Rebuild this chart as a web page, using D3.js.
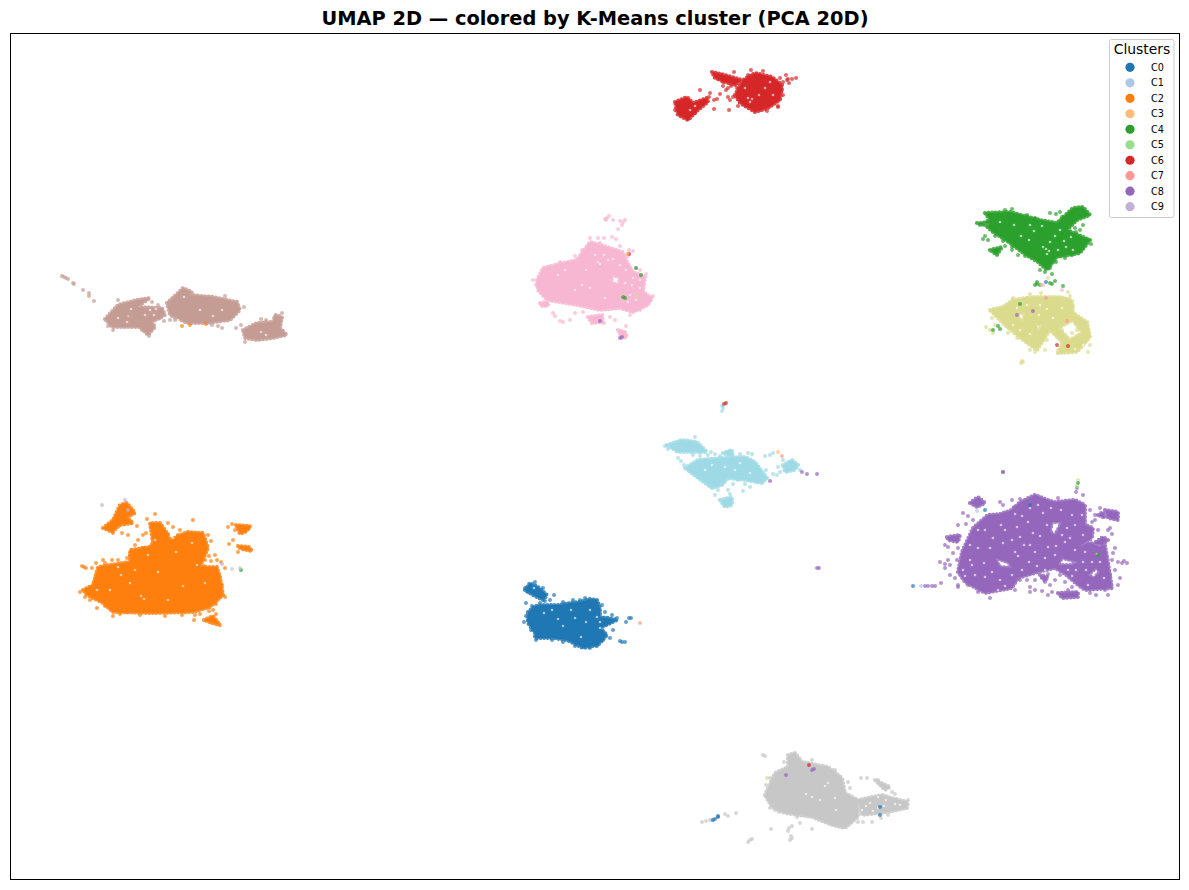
<!DOCTYPE html>
<html>
<head>
<meta charset="utf-8">
<script src="https://cdn.jsdelivr.net/npm/d3@7"></script>
<style>
  html, body { margin: 0; background: #fff; }
  text { font-family: "DejaVu Sans", sans-serif; }
</style>
</head>
<body>
<svg id="chart"></svg>
<script>
const legendLabels = ["C0","C1","C2","C3","C4","C5","C6","C7","C8","C9"];
const legendColors = ["#1f77b4","#aec7e8","#ff7f0e","#ffbb78","#2ca02c","#98df8a","#d62728","#ff9896","#9467bd","#c5b0d5"];

// UMAP values. Dense regions are outlines, the rest single points.
const c0Core = [
  [[528,612],[535,606],[543,605],[560,605],[570,603],[580,602],[590,599],[597,600],[600,608],[600,617],[608,618],[617,620],[600,628],[607,635],[598,645],[583,648],[567,640],[553,638],[535,638],[535,633],[528,623]],
  [[525,590],[530,583],[538,587],[547,595],[543,600],[533,595]]
];
const c0Points = [[526,603],[532,606],[528,620],[531,630],[536,640],[552,640],[563,642],[575,646],[590,648],[597,646],[603,640],[610,638],[613,630],[606,624],[617,618],[612,615],[622,642],[620,641],[625,642],[631,618],[629,618],[626,622],[554,595],[543,588],[550,600],[580,600],[585,598],[594,601],[540,603],[525,588],[528,592],[535,582],[605,612],[602,605],[524,622],[526,616],[610,622],[603,632],[573,600],[563,602],[545,601]];
const c0Gaps = [[586,622],[575,618],[558,619],[563,626],[600,622],[552,610],[571,610],[581,637],[597,617],[600,628],[534,588],[544,613],[590,610]];

const c2Core = [
  [[83,590],[93,585],[98,567],[110,565],[130,562],[130,550],[150,547],[153,543],[150,523],[160,523],[167,533],[170,540],[187,532],[203,533],[208,548],[200,567],[217,567],[220,577],[223,595],[210,607],[193,612],[153,613],[113,612],[103,603],[87,595]],
  [[103,528],[113,520],[120,505],[127,503],[135,513],[127,517],[133,523],[120,525],[112,532]],
  [[236,525],[250,526],[247,531],[240,534]],
  [[238,546],[249,547],[252,551],[241,549]],
  [[204,620],[213,616],[220,625],[212,623]]
];
const c2Points = [[82,566],[84,567],[86,568],[100,596],[105,606],[113,616],[127,612],[165,616],[195,615],[209,611],[194,620],[213,610],[216,614],[143,535],[146,533],[138,540],[135,545],[155,514],[147,519],[225,597],[222,585],[217,560],[221,562],[225,568],[215,555],[208,535],[211,541],[209,556],[193,520],[173,527],[180,530],[168,523],[232,524],[228,527],[235,530],[233,540],[238,552],[229,544],[241,527],[249,528],[137,526],[128,535],[122,533],[113,533],[110,528],[140,557],[130,555],[112,560],[105,563],[96,563],[92,568],[80,592],[85,597],[90,600],[97,608],[150,548],[161,541],[168,534],[214,583],[216,604],[200,614],[182,615],[140,615],[120,614],[143,548],[137,553],[127,558],[172,542],[178,535],[205,560],[204,566],[211,561],[103,560],[118,560]];
const c2Gaps = [[141,596],[144,599],[158,572],[183,586],[121,575],[110,590],[176,552],[192,543],[148,555],[130,583],[205,583],[97,590],[168,600],[155,540],[135,570],[118,567],[173,538],[197,565]];

const c4Core = [
  [[985,213],[1010,212],[1040,220],[1057,223],[1073,208],[1083,207],[1090,215],[1077,220],[1067,230],[1090,240],[1080,253],[1057,257],[1047,270],[1038,262],[1023,253],[1010,243],[993,232],[983,223],[990,220]],
  [[977,223],[990,223],[988,226]],
  [[990,250],[1002,247],[997,255]]
];
const c4Points = [[985,236],[988,240],[983,239],[1012,247],[1018,255],[1025,256],[1012,250],[1050,268],[1056,262],[1065,258],[1072,255],[1062,255],[1052,274],[1045,272],[1040,270],[1080,230],[1076,232],[1088,240],[1091,244],[1062,217],[1050,213],[1056,214],[1060,212],[1005,210],[1012,209],[1027,215],[1035,218],[980,225],[995,236],[1003,241],[1037,282],[1052,284],[1055,281],[1040,285],[1035,285],[1066,222],[1083,225],[1075,228],[1068,232],[1074,236],[1083,248],[1030,256],[1005,246]];
const c4Gaps = [[1014,225],[1021,236],[1034,231],[1043,247],[1050,242],[1064,241],[1029,240],[1047,254],[1058,250],[1071,237],[1042,226],[1060,230],[1000,222],[1049,251],[1046,249],[1073,250],[1066,247],[1030,225],[1055,236]];

const c6Core = [
  [[735,95],[743,80],[755,73],[772,77],[782,85],[780,100],[768,108],[755,112],[740,103]],
  [[675,102],[687,97],[693,103],[707,98],[708,102],[698,110],[688,120],[678,115]],
  [[712,72],[725,75],[742,80],[735,85],[725,82],[715,78]]
];
const c6Points = [[787,80],[792,79],[796,78],[783,82],[780,78],[789,83],[778,107],[778,106],[767,111],[700,90],[710,93],[709,97],[714,100],[717,99],[720,94],[726,90],[728,88],[728,97],[730,100],[729,110],[714,109],[731,79],[723,82],[718,78],[737,88],[739,92],[733,97],[738,106],[745,105],[734,72],[748,75],[675,110],[677,103],[688,119],[695,113],[699,107],[783,95],[782,90],[786,75],[788,79],[751,70],[763,71],[723,86],[731,86]];
const c6Gaps = [[748,98],[752,99],[759,95],[695,106],[690,110],[765,88],[750,102],[745,88],[773,95],[770,82]];

const c8Core = [
  [[958,572],[962,552],[973,528],[988,515],[1000,514],[1012,510],[1020,502],[1035,495],[1048,500],[1055,502],[1075,500],[1085,505],[1085,525],[1093,528],[1092,538],[1078,547],[1088,543],[1105,545],[1108,562],[1112,588],[1085,590],[1078,585],[1065,574],[1055,568],[1038,572],[1018,578],[1012,588],[985,593],[965,582]],
  [[995,558],[1008,562],[1012,568],[1000,567]],
  [[1062,558],[1078,562],[1072,565],[1058,565]],
  [[1052,522],[1062,522],[1055,535],[1050,532]],
  [[1098,515],[1103,512],[1105,518]],
  [[970,503],[978,497],[985,503],[977,507]],
  [[1105,510],[1118,512],[1118,520],[1108,518]],
  [[947,537],[960,535],[958,542],[948,540]],
  [[1058,593],[1078,592],[1078,597],[1062,598]],
  [[1093,544],[1103,537],[1108,540],[1100,547]],
  [[1093,578],[1100,572],[1096,568],[1088,575]],
  [[1040,575],[1048,577],[1045,581]]
];
const c8Points = [[1118,562],[1122,563],[1127,563],[1124,561],[940,562],[945,564],[950,565],[948,560],[928,586],[932,586],[935,586],[925,586],[941,583],[958,587],[1003,472],[1076,492],[1077,488],[973,520],[968,516],[963,513],[966,524],[958,525],[1000,502],[1003,505],[1012,500],[1014,507],[1020,499],[1058,498],[1083,495],[1090,510],[1095,515],[1095,520],[1100,508],[1092,522],[1098,530],[1110,528],[1112,534],[1108,530],[1115,548],[1113,553],[1112,560],[1115,570],[1110,575],[1108,580],[1118,585],[1105,590],[1108,595],[1090,593],[1096,595],[1050,585],[1052,592],[1030,587],[1027,580],[1035,590],[1030,592],[1035,580],[1045,582],[1048,574],[1042,578],[1020,580],[1015,590],[990,598],[978,592],[968,585],[958,585],[955,578],[945,568],[950,575],[953,553],[948,547],[958,548],[957,560],[945,545],[1060,575],[1065,582],[1072,587],[1068,590],[1055,580],[1048,595],[1042,591],[1090,582],[1100,585],[1120,578]];
const c8Gaps = [[985,530],[993,538],[1003,543],[1017,527],[1028,522],[1033,533],[1024,545],[1035,552],[1029,562],[1043,513],[1040,536],[1048,547],[1045,558],[1065,542],[1075,525],[1085,552],[1092,562],[1075,550],[1000,580],[985,577],[975,575],[970,560],[978,548],[1018,556],[1068,570],[1086,570],[1083,535],[1094,575],[1015,514],[1001,525],[1056,546],[1012,540],[1037,566],[963,570],[990,548],[978,530],[970,545],[984,563],[992,572],[1012,575],[1005,586],[1022,570],[1030,508],[1038,505],[1047,525],[1020,537],[1005,530],[1030,545],[1061,510],[1072,515],[1067,528],[1045,570],[1097,554],[1100,562],[1088,585],[1104,578],[1083,562],[1070,538],[1055,555],[1015,552],[998,590],[972,565],[965,576],[1022,516],[1062,535],[1082,515],[1051,508],[1072,576],[1076,570]];

const c11Core = [
  [[105,319],[118,305],[137,300],[150,298],[137,307],[162,308],[165,315],[152,322],[155,327],[148,335],[140,327],[112,327]],
  [[167,303],[178,293],[183,288],[192,292],[190,295],[213,297],[237,302],[240,310],[230,320],[207,323],[187,323],[170,315]],
  [[243,330],[257,323],[273,322],[275,315],[282,317],[280,328],[286,335],[273,338],[257,340],[245,338]]
];
const c11Points = [[62,276],[64,277],[66,278],[68,279],[73,283],[74,284],[83,290],[89,293],[89,296],[94,301],[160,318],[164,321],[170,320],[175,320],[212,325],[218,326],[222,328],[236,328],[241,325],[261,319],[266,320],[282,313],[131,320],[147,332],[149,336],[142,330],[125,310],[127,315],[118,300],[108,326],[113,330],[152,302],[158,305],[225,296],[236,305],[244,307],[283,331],[286,334],[245,342],[135,318],[145,325]];
const c11Gaps = [[131,309],[145,315],[154,315],[184,297],[200,310],[222,310],[213,316],[261,332],[156,309],[128,316],[118,318],[150,310],[178,320],[266,335],[127,322]];

const c13Core = [
  [[537,280],[543,268],[563,263],[577,260],[590,242],[607,247],[623,252],[627,262],[633,272],[645,277],[643,292],[652,298],[648,305],[633,312],[620,308],[600,310],[577,305],[547,300],[538,290]],
  [[613,275],[620,278],[618,285],[611,282]],
  [[588,317],[602,315],[603,322],[592,323]],
  [[618,330],[625,332],[627,337],[622,338]],
  [[540,303],[548,302],[548,306],[541,306]]
];
const c13Points = [[607,218],[606,220],[609,216],[605,219],[613,220],[620,221],[623,222],[625,220],[622,225],[618,229],[598,238],[604,238],[612,237],[616,239],[629,250],[633,251],[628,256],[636,268],[640,270],[646,274],[653,296],[650,300],[643,298],[553,313],[555,316],[560,321],[563,322],[570,320],[575,313],[583,312],[604,323],[615,320],[622,333],[626,326],[610,317],[630,315],[640,310],[560,262],[570,263],[575,256],[582,250],[587,248],[536,285],[533,280],[590,238],[620,246],[600,243]];
const c13Gaps = [[558,275],[565,270],[600,264],[608,260],[595,255],[620,265],[613,259],[582,285],[590,288],[625,283],[632,285],[630,295],[640,288],[622,296],[605,298],[633,278],[640,280],[586,270],[575,290],[626,270],[636,300],[628,302],[598,262],[604,255]];

const c15Core = [
  [[765,795],[775,773],[788,767],[788,755],[795,753],[802,762],[828,767],[842,778],[845,793],[858,800],[858,817],[845,828],[832,825],[812,817],[785,813],[772,807]],
  [[858,800],[882,795],[892,798],[908,802],[907,808],[888,812],[862,815]],
  [[875,780],[890,787],[885,790]]
];
const c15Points = [[702,822],[706,821],[710,820],[712,820],[725,814],[728,816],[736,813],[763,755],[765,756],[750,840],[752,839],[748,842],[771,829],[789,828],[792,826],[788,831],[791,836],[792,838],[790,840],[812,829],[800,823],[770,808],[775,810],[770,778],[766,785],[861,778],[867,778],[878,780],[892,792],[890,802],[895,794],[908,800],[888,815],[881,818],[872,822],[863,822],[858,822],[779,812],[797,817],[848,782],[850,788],[835,770],[812,760],[784,762],[775,780]];
const c15Gaps = [[806,794],[812,797],[828,783],[825,786],[820,800],[835,798],[878,808],[870,803],[886,800],[895,804],[878,797],[836,810],[866,806],[873,811],[900,805],[884,806],[862,810]];

const c17Core = [
  [[990,310],[1003,307],[1013,300],[1033,297],[1060,297],[1072,300],[1073,313],[1087,322],[1090,337],[1077,352],[1057,353],[1063,343],[1050,330],[1037,350],[1027,343],[1007,327]],
  [[1058,328],[1073,320],[1082,333],[1070,340]],
  [[1015,315],[1025,312],[1023,322]],
  [[1035,323],[1042,325],[1038,332]]
];
const c17Points = [[1022,361],[1023,362],[1021,363],[1013,298],[1030,294],[1041,293],[1070,296],[1068,292],[1073,306],[1078,318],[1090,345],[1088,352],[1076,345],[1072,333],[1062,330],[1075,322],[1065,322],[1055,325],[1047,340],[1045,350],[1035,352],[1030,350],[1017,338],[1008,333],[1010,325],[995,325],[992,318],[990,330],[993,333],[986,327],[1018,317],[1030,320],[1040,320],[1077,330],[1080,341],[1042,285],[1048,278],[1072,316]];
const c17Gaps = [[1017,308],[1027,305],[1047,309],[1039,315],[1013,325],[1030,334],[1053,318],[1020,330],[1083,345],[1062,308],[1040,305],[1075,349]];

const c19Core = [
  [[685,468],[698,460],[722,458],[745,457],[755,462],[767,478],[762,483],[745,480],[728,478],[722,485],[712,488],[698,478]],
  [[667,445],[682,440],[697,442],[707,452],[688,452],[678,452]],
  [[723,453],[732,450],[733,457]],
  [[783,465],[792,460],[798,465],[795,470],[785,472]],
  [[720,500],[732,497],[732,505],[725,507]]
];
const c19Points = [[695,437],[665,446],[668,449],[678,458],[681,461],[684,465],[700,452],[708,455],[715,454],[720,456],[740,454],[748,453],[752,454],[766,470],[770,455],[765,456],[773,453],[778,467],[773,474],[777,475],[780,472],[745,484],[750,487],[738,480],[733,484],[743,491],[718,490],[715,495],[722,411],[723,408],[722,406],[757,482],[783,460],[800,470],[693,455],[700,456],[711,452],[728,490],[730,494]];
const c19Gaps = [[712,465],[735,470],[740,463],[725,467],[750,473],[705,470]];

const clusterColors = ["#1f77b4","#ff7f0e","#2ca02c","#d62728","#9467bd","#c49c94","#f7b6d2","#c7c7c7","#dbdb8d","#9edae5"];
const clusterCores = [c0Core,c2Core,c4Core,c6Core,c8Core,c11Core,c13Core,c15Core,c17Core,c19Core];
const clusterPoints = [c0Points,c2Points,c4Points,c6Points,c8Points,c11Points,c13Points,c15Points,c17Points,c19Points];
const clusterGaps = [c0Gaps,c2Gaps,c4Gaps,c6Gaps,c8Gaps,c11Gaps,c13Gaps,c15Gaps,c17Gaps,c19Gaps];

// points that fell into another cluster's island
const strayX = [640,190,206,182,724,726,629,627,636,641,623,625,600,622,620,637,782,778,770,802,807,817,817,819,1078,1078,1077,1003,985,1098,1030,977,913,921,1046,1050,1037,1063,1067,993,998,1000,1017,1033,1057,809,814,786,880,880,713,718,715,718,767,812,1068,1062,1020,1046,1043,241,232,240,222,102,125,128];
const strayY = [623,325,324,326,404,403,254,254,268,275,297,298,321,337,338,296,456,452,481,472,474,474,568,568,480,483,486,472,510,555,505,511,586,586,298,283,284,286,321,330,326,329,315,311,345,765,769,775,807,815,820,816,819,817,778,770,346,290,304,282,285,570,569,568,564,505,500,510];
const strayC = ["#ff9896","#ff7f0e","#ff7f0e","#ff7f0e","#d62728","#d62728","#d62728","#ffbb78","#2ca02c","#2ca02c","#2ca02c","#2ca02c","#9467bd","#9467bd","#9467bd","#dbdb8d","#ff9896","#ffbb78","#9467bd","#9467bd","#9467bd","#9467bd","#9467bd","#9467bd","#dbdb8d","#2ca02c","#98df8a","#9467bd","#1f77b4","#2ca02c","#1f77b4","#aec7e8","#1f77b4","#aec7e8","#ff9896","#2ca02c","#2ca02c","#2ca02c","#ff9896","#2ca02c","#2ca02c","#2ca02c","#9467bd","#9467bd","#d62728","#d62728","#9467bd","#9467bd","#1f77b4","#1f77b4","#1f77b4","#1f77b4","#1f77b4","#1f77b4","#dbdb8d","#9467bd","#d62728","#f7b6d2","#2ca02c","#1f77b4","#f7b6d2","#2ca02c","#c7c7c7","#c7c7c7","#c5b0d5","#c5b0d5","#c5b0d5","#c5b0d5"];

const width = 1189, height = 890;
const margin = {top: 33, right: 9, bottom: 10, left: 11};

const x = d3.scaleLinear().domain([11, 1180]).range([margin.left, width - margin.right]);
const y = d3.scaleLinear().domain([33, 880]).range([margin.top, height - margin.bottom]);

const svg = d3.select("#chart").attr("width", width).attr("height", height).style("display", "block");

const ringPath = d3.line().x(d => x(d[0])).y(d => y(d[1])).curve(d3.curveLinearClosed);

clusterColors.forEach((color, i) => {
  const g = svg.append("g");
  const d = clusterCores[i].map(ringPath).join(" ");
  g.append("path")
    .attr("d", d)
    .attr("fill", color)
    .attr("fill-rule", "evenodd");
  // round dots along the outline so the edge reads as overlapping markers
  g.append("path")
    .attr("d", d)
    .attr("fill", "none")
    .attr("stroke", color)
    .attr("stroke-width", 4.2)
    .attr("stroke-linecap", "round")
    .attr("stroke-dasharray", "0 3.6")
    .attr("stroke-opacity", 0.85);
  g.selectAll("circle.gap")
    .data(clusterGaps[i])
    .join("circle")
    .attr("class", "gap")
    .attr("cx", d => x(d[0]))
    .attr("cy", d => y(d[1]))
    .attr("r", 1.3)
    .attr("fill", "#fff")
    .attr("fill-opacity", 0.6);
  g.selectAll("circle.pt")
    .data(clusterPoints[i])
    .join("circle")
    .attr("class", "pt")
    .attr("cx", d => x(d[0]))
    .attr("cy", d => y(d[1]))
    .attr("r", 2)
    .attr("fill", color)
    .attr("fill-opacity", 0.7);
});

svg.append("g").selectAll("circle")
  .data(strayX)
  .join("circle")
  .attr("cx", d => x(d))
  .attr("cy", (d, i) => y(strayY[i]))
  .attr("r", 2)
  .attr("fill", (d, i) => strayC[i])
  .attr("fill-opacity", 0.7);

// frame, no ticks
svg.append("rect")
  .attr("x", margin.left - 0.5).attr("y", margin.top + 0.5)
  .attr("width", width - margin.left - margin.right)
  .attr("height", height - margin.top - margin.bottom - 1)
  .attr("fill", "none").attr("stroke", "#000").attr("stroke-width", 1);

svg.append("text")
  .attr("x", 595).attr("y", 25)
  .attr("text-anchor", "middle")
  .style("font-size", "19.4px").style("font-weight", "bold")
  .text("UMAP 2D — colored by K-Means cluster (PCA 20D)");

// legend
const legend = svg.append("g");
legend.append("rect")
  .attr("x", 1109.5).attr("y", 39.5).attr("width", 64.5).attr("height", 178).attr("rx", 2)
  .attr("fill", "#fff").attr("fill-opacity", 0.8).attr("stroke", "#ccc").attr("stroke-width", 1);
legend.append("text")
  .attr("x", 1142).attr("y", 54).attr("text-anchor", "middle")
  .style("font-size", "13.9px").text("Clusters");

const legendY = d3.scalePoint().domain(legendLabels).range([67.3, 206.7]);
const items = legend.selectAll("g.item").data(legendLabels).join("g").attr("class", "item");
items.append("circle")
  .attr("cx", 1130).attr("cy", d => legendY(d)).attr("r", 4.6)
  .attr("fill", (d, i) => legendColors[i]);
items.append("text")
  .attr("x", 1151).attr("y", d => legendY(d) + 3.5)
  .style("font-size", "9.7px").text(d => d);
</script>
</body>
</html>
